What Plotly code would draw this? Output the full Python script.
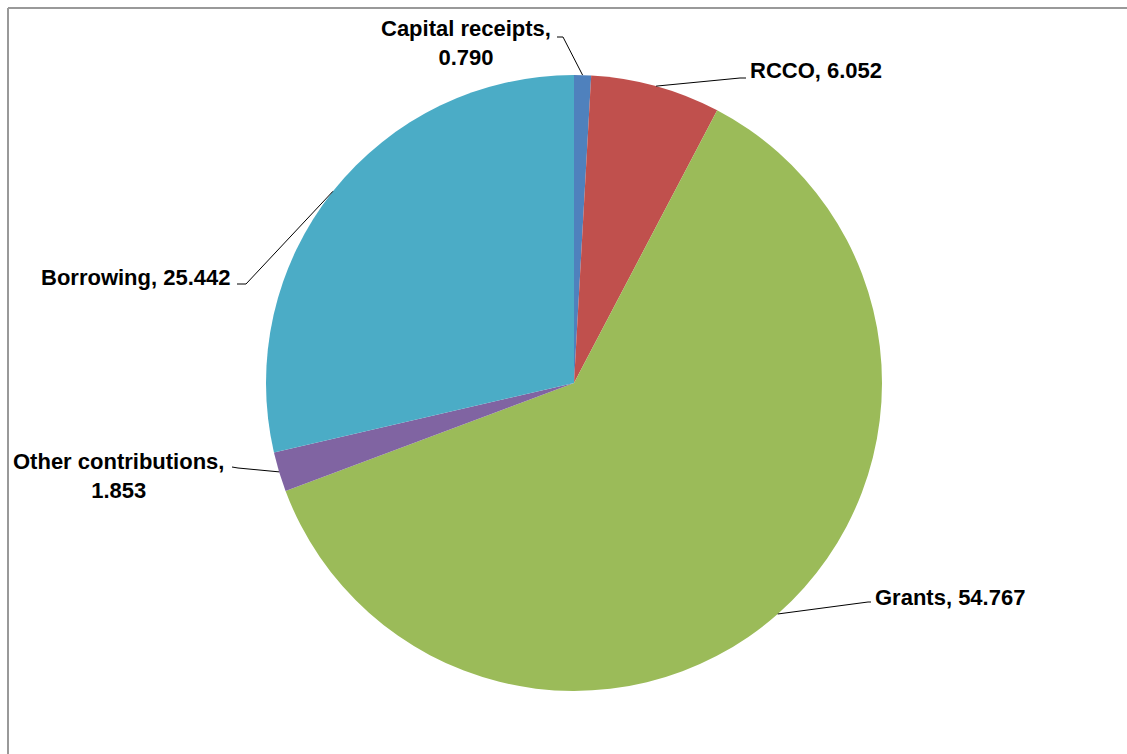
import math
import plotly.graph_objects as go

# Capital financing sources (£m)
labels = ["Capital receipts", "RCCO", "Grants", "Other contributions", "Borrowing"]
values = [0.790, 6.052, 54.767, 1.853, 25.442]
colors = ["#4F81BD", "#C0504D", "#9BBB59", "#8064A2", "#4BACC6"]

W, H = 1127, 754
CX, CY, R = 574, 383, 308  # pie centre and radius in pixels

# label layout: (elbow x, elbow y, end x, end y, text anchor x, text y, xanchor, two-line)
label_layout = {
    "Capital receipts": (563, 37, 557, 37, 553, 43, "right", True),
    "RCCO": (740, 78, 746, 78, 748, 70, "left", False),
    "Grants": (868, 602, 871, 602, 873, 597, "left", False),
    "Other contributions": (238, 468, 232, 467, 226, 476, "right", True),
    "Borrowing": (246, 284, 237, 284, 233, 277, "right", False),
}


def px(x):
    return x / W


def py(y):
    return 1 - y / H


fig = go.Figure(
    go.Pie(
        labels=labels,
        values=values,
        marker=dict(colors=colors, line=dict(width=0)),
        sort=False,
        direction="clockwise",
        rotation=0,
        textinfo="none",
        hoverinfo="label+value",
        showlegend=False,
        domain=dict(x=[px(CX - R), px(CX + R)], y=[py(CY + R), py(CY - R)]),
    )
)

total = sum(values)
shapes = []
annotations = []
cum = 0.0
for lab, val in zip(labels, values):
    mid = (cum + val / 2) / total * 2 * math.pi
    cum += val
    sx = CX + R * math.sin(mid)
    sy = CY - R * math.cos(mid)
    ex, ey, tx, ty, ax, ay, anchor, two = label_layout[lab]
    shapes.append(dict(type="line", xref="paper", yref="paper",
                       x0=px(sx), y0=py(sy), x1=px(ex), y1=py(ey),
                       line=dict(color="black", width=1)))
    shapes.append(dict(type="line", xref="paper", yref="paper",
                       x0=px(ex), y0=py(ey), x1=px(tx), y1=py(ty),
                       line=dict(color="black", width=1)))
    sep = "<br>" if two else " "
    annotations.append(dict(
        xref="paper", yref="paper", x=px(ax), y=py(ay),
        xanchor=anchor, yanchor="middle", align="center",
        text=f"<b>{lab},{sep}{val:.3f}</b>", showarrow=False,
        font=dict(family="Liberation Sans, Arial, sans-serif", size=22, color="black"),
    ))

# chart-area frame
shapes.append(dict(type="line", xref="paper", yref="paper",
                   x0=px(8), y0=py(8), x1=px(W + 2), y1=py(8),
                   line=dict(color="#999999", width=2)))
shapes.append(dict(type="line", xref="paper", yref="paper",
                   x0=px(8), y0=py(8), x1=px(8), y1=py(H + 2),
                   line=dict(color="#999999", width=2)))

fig.update_layout(
    width=W, height=H,
    margin=dict(l=0, r=0, t=0, b=0),
    paper_bgcolor="white",
    plot_bgcolor="white",
    shapes=shapes,
    annotations=annotations,
)

fig.write_html("out.html")
